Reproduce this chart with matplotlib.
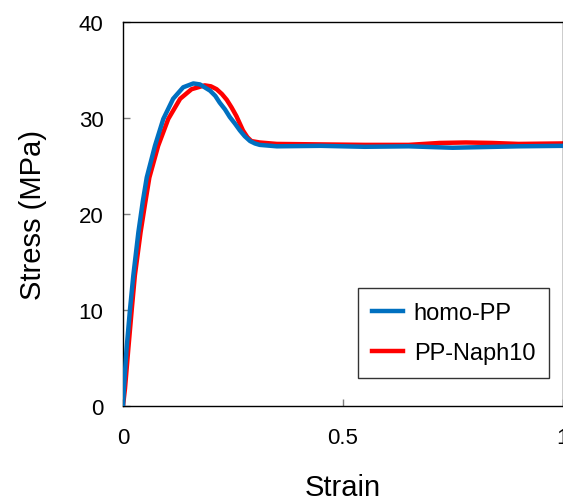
import matplotlib
matplotlib.use("Agg")
import matplotlib.pyplot as plt

plt.rcParams['font.family'] = ['Liberation Sans', 'DejaVu Sans']

# homo-PP
strain_homo = [0.0, 0.002, 0.008, 0.016, 0.0235, 0.035, 0.045, 0.054, 0.0727, 0.0917,
               0.114, 0.137, 0.160, 0.175, 0.198, 0.210, 0.220, 0.232, 0.243, 0.255,
               0.266, 0.277, 0.289, 0.300, 0.311, 0.350, 0.450, 0.550, 0.650, 0.750,
               0.800, 0.900, 1.0]
stress_homo = [0.0, 1.8, 5.9, 10.1, 13.6, 18.1, 21.3, 23.8, 27.1, 29.9,
               32.0, 33.2, 33.6, 33.5, 32.85, 32.3, 31.6, 30.9, 30.1, 29.4,
               28.7, 28.1, 27.6, 27.35, 27.2, 27.05, 27.1, 27.0, 27.05, 26.9,
               26.95, 27.05, 27.1]

# PP-Naph10
strain_naph = [0.0, 0.0045, 0.012, 0.020, 0.027, 0.040, 0.050, 0.060, 0.080, 0.103,
               0.130, 0.156, 0.186, 0.200, 0.213, 0.225, 0.236, 0.247, 0.258, 0.265,
               0.273, 0.283, 0.292, 0.311, 0.350, 0.450, 0.550, 0.650, 0.720, 0.780,
               0.840, 0.900, 1.0]
stress_naph = [0.0, 1.8, 5.9, 10.1, 13.6, 18.1, 21.0, 23.8, 27.1, 29.9,
               32.0, 33.0, 33.4, 33.3, 33.0, 32.5, 31.9, 31.1, 30.2, 29.5,
               28.7, 28.0, 27.6, 27.45, 27.3, 27.25, 27.2, 27.2, 27.4, 27.45,
               27.4, 27.3, 27.35]

x_ticks = [0, 0.5, 1]
x_ticklabels = ["0", "0.5", "1"]
y_ticks = [0, 10, 20, 30, 40]

W, H = 563, 502
fig = plt.figure(figsize=(W / 100, H / 100), dpi=100)
ax = fig.add_axes([123 / W, (H - 407) / H, (562.5 - 123) / W, (407 - 23) / H])

l2, = ax.plot(strain_naph, stress_naph, color='#FF0000', lw=3.2, label='PP-Naph10', zorder=2)
l1, = ax.plot(strain_homo, stress_homo, color='#0070C0', lw=3.2, label='homo-PP', zorder=3)

ax.set_xlim(0, 1)
ax.set_ylim(0, 40)
ax.set_xticks(x_ticks)
ax.set_xticklabels(x_ticklabels)
ax.set_yticks(y_ticks)
ax.tick_params(axis='both', direction='in', length=5, width=1, color='#7f7f7f',
               labelsize=16, labelcolor='black')
ax.tick_params(axis='x', pad=15)
ax.tick_params(axis='y', pad=14)
for s in ax.spines.values():
    s.set_color('black')
    s.set_linewidth(1.0)

ax.set_xlabel('Strain', fontsize=21, labelpad=18)
ax.set_ylabel('Stress (MPa)', fontsize=21, labelpad=23)

leg = ax.legend(handles=[l1, l2], loc='upper left',
                bbox_to_anchor=(358.3 / W, (H - 289) / H), bbox_transform=fig.transFigure,
                fontsize=17, frameon=True, fancybox=False, edgecolor='black',
                handlelength=1.3, handletextpad=0.45, borderpad=0.6, labelspacing=0.75,
                borderaxespad=0)
leg.get_frame().set_linewidth(1.0)

fig.savefig('out.png', dpi=100)
